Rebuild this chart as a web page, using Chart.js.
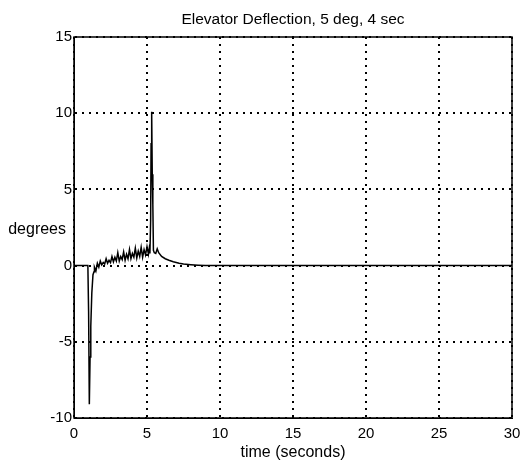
<!DOCTYPE html>
<html>
<head>
<meta charset="utf-8">
<script src="https://cdn.jsdelivr.net/npm/chart.js@4/dist/chart.umd.min.js"></script>
<style>
  html, body { margin: 0; padding: 0; background: #fff; }
  #wrap { width: 521px; height: 466px; }
</style>
</head>
<body>
<div id="wrap"><canvas id="elev"></canvas></div>
<script>
// elevator response, time in seconds / deflection in degrees
const timeSec = [
  0, 0.95, 1.0, 1.05, 1.1, 1.15, 1.22, 1.3, 1.37,
  1.4, 1.5, 1.6, 1.7, 1.8, 1.9, 2.0, 2.1, 2.2, 2.3,
  2.4, 2.5, 2.6, 2.7, 2.8, 2.9, 3.0, 3.1, 3.2, 3.3,
  3.4, 3.5, 3.6, 3.7, 3.8, 3.9, 4.0, 4.1, 4.2, 4.3,
  4.4, 4.5, 4.6, 4.7, 4.8, 4.9, 5.0, 5.1, 5.15, 5.2,
  5.25, 5.28, 5.32, 5.36, 5.4, 5.44, 5.5, 5.6, 5.7, 5.8,
  6.0, 6.25, 6.5, 6.8, 7.2, 7.5, 8.0, 8.5, 9.0, 9.5, 30
];
const deflectionDeg = [
  0, 0, -3.0, -9.1, -6.0, -4.0, -1.8, -0.6, -0.4,
  -0.1, -0.35, 0.15, -0.1, 0.3, 0.05, 0.2, 0.1, 0.45, 0.15,
  0.35, 0.2, 0.6, 0.25, 0.55, 0.3, 0.85, 0.3, 0.6, 0.4,
  0.9, 0.35, 0.75, 0.45, 1.05, 0.45, 0.8, 0.55, 1.15, 0.5,
  0.95, 0.6, 1.2, 0.55, 1.05, 0.7, 1.25, 0.75, 1.1, 0.8,
  3.0, 8.0, 10.1, 6.0, 4.0, 1.0, 0.85, 0.8, 1.1, 0.85,
  0.6, 0.45, 0.35, 0.25, 0.15, 0.1, 0.06, 0.03, 0.01, 0, 0
];
const xTicks = [0, 5, 10, 15, 20, 25, 30];
const yTicks = [-10, -5, 0, 5, 10, 15];

const FONT = 'Liberation Sans, Arial, Helvetica, sans-serif';

// title, y label and the closed axes box
const frameLabels = {
    id: 'frameLabels',
    afterDraw: function(chart) {
        const ctx = chart.ctx;
        const a = chart.chartArea;
        ctx.save();
        ctx.strokeStyle = '#000';
        ctx.lineWidth = 1.5;
        ctx.setLineDash([]);
        ctx.strokeRect(a.left, a.top, a.right - a.left, a.bottom - a.top);

        ctx.fillStyle = '#000';
        ctx.font = '15.5px ' + FONT;
        ctx.textAlign = 'center';
        ctx.textBaseline = 'middle';
        ctx.fillText('Elevator Deflection, 5 deg, 4 sec', (a.left + a.right) / 2, 20);
        ctx.font = '16px ' + FONT;
        ctx.fillText('time (seconds)', (a.left + a.right) / 2, 453);

        ctx.textAlign = 'right';
        ctx.fillText('degrees', 66, (a.top + a.bottom) / 2 + 2);
        ctx.restore();
    }
};

const points = timeSec.map(function(t, i) { return { x: t, y: deflectionDeg[i] }; });

new Chart(document.getElementById('elev'), {
    type: 'line',
    data: {
        datasets: [{
            data: points,
            borderColor: '#000',
            borderWidth: 1.5,
            pointRadius: 0,
            tension: 0,
            fill: false
        }]
    },
    options: {
        responsive: true,
        maintainAspectRatio: false,
        animation: false,
        layout: { padding: { top: 37, right: 9, bottom: 0, left: 0 } },
        plugins: {
            legend: { display: false },
            tooltip: { enabled: false }
        },
        scales: {
            x: {
                type: 'linear',
                min: 0,
                max: 30,
                afterBuildTicks: function(scale) {
                    scale.ticks = xTicks.map(function(v) { return { value: v }; });
                },
                afterFit: function(scale) {
                    scale.height = 48;
                    scale.paddingLeft = 0;
                    scale.paddingRight = 0;
                },
                grid: { color: '#000', lineWidth: 2, drawTicks: false },
                border: { display: true, color: '#000', width: 1, dash: [2, 5] },
                ticks: {
                    color: '#000',
                    padding: 7,
                    maxRotation: 0,
                    font: { family: FONT, size: 15 }
                }
            },
            y: {
                type: 'linear',
                min: -10,
                max: 15,
                afterBuildTicks: function(scale) {
                    scale.ticks = yTicks.map(function(v) { return { value: v }; });
                },
                afterFit: function(scale) {
                    scale.width = 74;
                    scale.paddingTop = 0;
                    scale.paddingBottom = 0;
                },
                grid: { color: '#000', lineWidth: 2, drawTicks: false },
                border: { display: true, color: '#000', width: 1, dash: [2, 5] },
                ticks: {
                    color: '#000',
                    padding: 2,
                    font: { family: FONT, size: 15 }
                }
            }
        }
    },
    plugins: [frameLabels]
});
</script>
</body>
</html>
